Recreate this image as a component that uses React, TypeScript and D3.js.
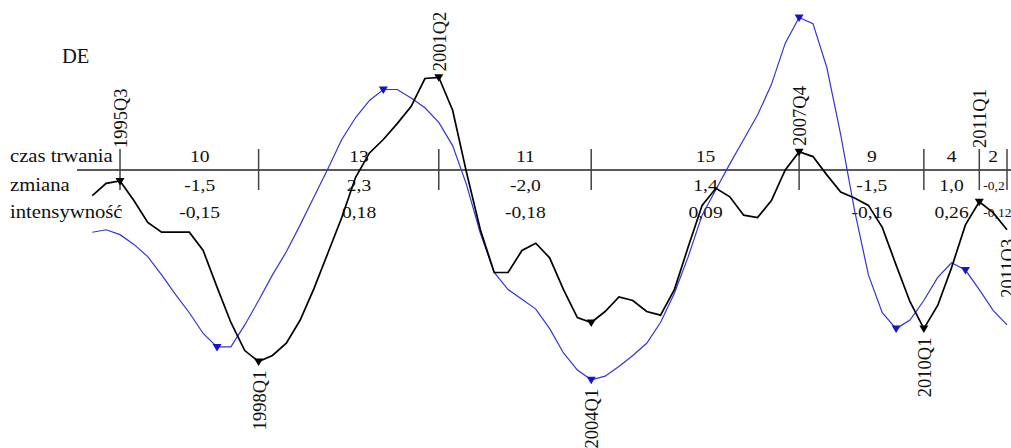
import React from "react";
import * as d3 from "d3";

const quarters = [
  "1995Q1","1995Q2","1995Q3","1995Q4","1996Q1","1996Q2","1996Q3","1996Q4",
  "1997Q1","1997Q2","1997Q3","1997Q4","1998Q1","1998Q2","1998Q3","1998Q4",
  "1999Q1","1999Q2","1999Q3","1999Q4","2000Q1","2000Q2","2000Q3","2000Q4",
  "2001Q1","2001Q2","2001Q3","2001Q4","2002Q1","2002Q2","2002Q3","2002Q4",
  "2003Q1","2003Q2","2003Q3","2003Q4","2004Q1","2004Q2","2004Q3","2004Q4",
  "2005Q1","2005Q2","2005Q3","2005Q4","2006Q1","2006Q2","2006Q3","2006Q4",
  "2007Q1","2007Q2","2007Q3","2007Q4","2008Q1","2008Q2","2008Q3","2008Q4",
  "2009Q1","2009Q2","2009Q3","2009Q4","2010Q1","2010Q2","2010Q3","2010Q4",
  "2011Q1","2011Q2","2011Q3",
];

const blackSeries = [
  -0.21,-0.11,-0.09,-0.25,-0.43,-0.51,-0.51,-0.51,
  -0.66,-0.96,-1.25,-1.48,-1.57,-1.52,-1.42,-1.23,
  -0.97,-0.68,-0.39,-0.06,0.14,0.25,0.38,0.52,
  0.75,0.76,0.49,-0.02,-0.49,-0.84,-0.84,-0.66,
  -0.60,-0.72,-0.98,-1.21,-1.25,-1.16,-1.04,-1.07,
  -1.16,-1.19,-0.98,-0.63,-0.29,-0.15,-0.22,-0.37,
  -0.39,-0.25,0.0,0.15,0.11,-0.04,-0.18,-0.23,
  -0.29,-0.47,-0.78,-1.08,-1.30,-1.11,-0.80,-0.45,
  -0.26,-0.35,-0.49,
];

const blueSeries = [
  -0.51,-0.49,-0.53,-0.61,-0.71,-0.86,-1.02,-1.17,
  -1.34,-1.45,-1.45,-1.27,-1.07,-0.86,-0.67,-0.45,
  -0.22,0.01,0.25,0.43,0.57,0.66,0.66,0.59,
  0.51,0.39,0.20,-0.12,-0.52,-0.84,-0.98,-1.06,
  -1.14,-1.30,-1.50,-1.64,-1.72,-1.69,-1.61,-1.52,
  -1.42,-1.25,-1.01,-0.71,-0.37,-0.16,0.05,0.25,
  0.45,0.70,1.04,1.25,1.20,0.84,0.29,-0.33,
  -0.86,-1.17,-1.30,-1.23,-1.07,-0.88,-0.76,-0.82,
  -0.98,-1.15,-1.27,
];

const turningPoints = ["1995Q3","1998Q1","2001Q2","2004Q1","2007Q4","2010Q1","2011Q1","2011Q3"];
const turningTypes = ["P","T","P","T","P","T","P","T"];
const blackMarked = ["1995Q3","1998Q1","2001Q2","2004Q1","2007Q4","2010Q1","2011Q1"];
const blueMarked = ["1997Q2","2000Q2","2004Q1","2007Q4","2009Q3","2010Q4"];

const rowLabels = ["czas trwania","zmiana","intensywność"];
const durations = ["10","13","11","15","9","4","2"];
const changes = ["-1,5","2,3","-2,0","1,4","-1,5","1,0","-0,2"];
const intensities = ["-0,15","0,18","-0,18","0,09","-0,16","0,26","-0,12"];

const W = 1011, H = 448;
const FONT = "'Liberation Serif', 'DejaVu Serif', 'Times New Roman', serif";

export default function App() {
  const x = d3.scalePoint<string>().domain(quarters).range([92.3, 1007]);
  const y = d3.scaleLinear().domain([-1, 1]).range([292, 48]);
  const axisY = 170;

  const line = d3.line<number>().x((_, i) => x(quarters[i])!).y((d) => y(d));

  const tri = (cx: number, cy: number) =>
    `M${cx - 4.5},${cy - 4} L${cx + 4.5},${cy - 4} L${cx},${cy + 3.5} Z`;

  const rows = [durations, changes, intensities];
  const rowY = [162, 191, 218];
  const txt = { fontFamily: FONT };

  return (
    <svg width={W} height={H} style={{ position: "absolute", left: 0, top: 0, background: "#fff", fontFamily: FONT }}>
      <rect width={W} height={H} fill="#fff" />
      <text x={62} y={63} fontSize={20.5} fill="#111" style={txt}>DE</text>

      {rowLabels.map((l, i) => (
        <text key={l} x={10} y={rowY[i]} fontSize={18} fill="#111" style={txt}
          transform={`translate(10,0) scale(1.15,1) translate(-10,0)`}>{l}</text>
      ))}

      <line x1={77} x2={W} y1={axisY} y2={axisY} stroke="#222" strokeWidth={1.3} />
      {turningPoints.map((tp) => (
        <line key={"tk" + tp} x1={x(tp)} x2={x(tp)} y1={149} y2={190} stroke="#444" strokeWidth={1.5} />
      ))}

      {durations.map((_, k) => {
        const a = quarters.indexOf(turningPoints[k]);
        const b = quarters.indexOf(turningPoints[k + 1]);
        const step = x.step();
        const wide = b - a >= 9;
        const cx = x(quarters[a])! + ((b - a) / 2 + (wide ? 0.75 : 0)) * step;
        return rows.map((r, ri) => {
          const small = k === durations.length - 1 && ri > 0;
          if (small) {
            return (
              <text key={`c${k}-${ri}`} x={x(quarters[a])! + 4} y={rowY[ri] - 1} fontSize={13.5}
                fill="#111" style={txt}>{r[k]}</text>
            );
          }
          return (
            <text key={`c${k}-${ri}`} x={cx} y={rowY[ri]} fontSize={17.5} textAnchor="middle" fill="#111" style={txt}
              transform={`translate(${cx},0) scale(1.12,1) translate(${-cx},0)`}>{r[k]}</text>
          );
        });
      })}

      <path d={line(blueSeries) || ""} fill="none" stroke="#3434d6" strokeWidth={1.2} />
      <path d={line(blackSeries) || ""} fill="none" stroke="#000" strokeWidth={1.7} />

      {blueMarked.map((q) => {
        const i = quarters.indexOf(q);
        return <path key={"bm" + q} d={tri(x(q)!, y(blueSeries[i]) + 1)} fill="#1414d0" />;
      })}
      {blackMarked.map((q) => {
        const i = quarters.indexOf(q);
        return <path key={"km" + q} d={tri(x(q)!, y(blackSeries[i]) + 1)} fill="#000" />;
      })}

      {turningPoints.map((q, k) => {
        const i = quarters.indexOf(q);
        const px = x(q)!;
        const py = y(blackSeries[i]);
        if (turningTypes[k] === "P") {
          const by = Math.min(py - 6, 148);
          return (
            <text key={"lb" + q} transform={`translate(${px + 1},${by}) rotate(-90)`} fontSize={18.5}
              dominantBaseline="central" textAnchor="start" fill="#111" style={txt}>{q}</text>
          );
        }
        const low = blueMarked.includes(q) ? Math.max(py, y(blueSeries[i])) : py;
        return (
          <text key={"lb" + q} transform={`translate(${px + 1},${low + 9}) rotate(-90)`} fontSize={18.5}
            dominantBaseline="central" textAnchor="end" fill="#111" style={txt}>{q}</text>
        );
      })}
    </svg>
  );
}
